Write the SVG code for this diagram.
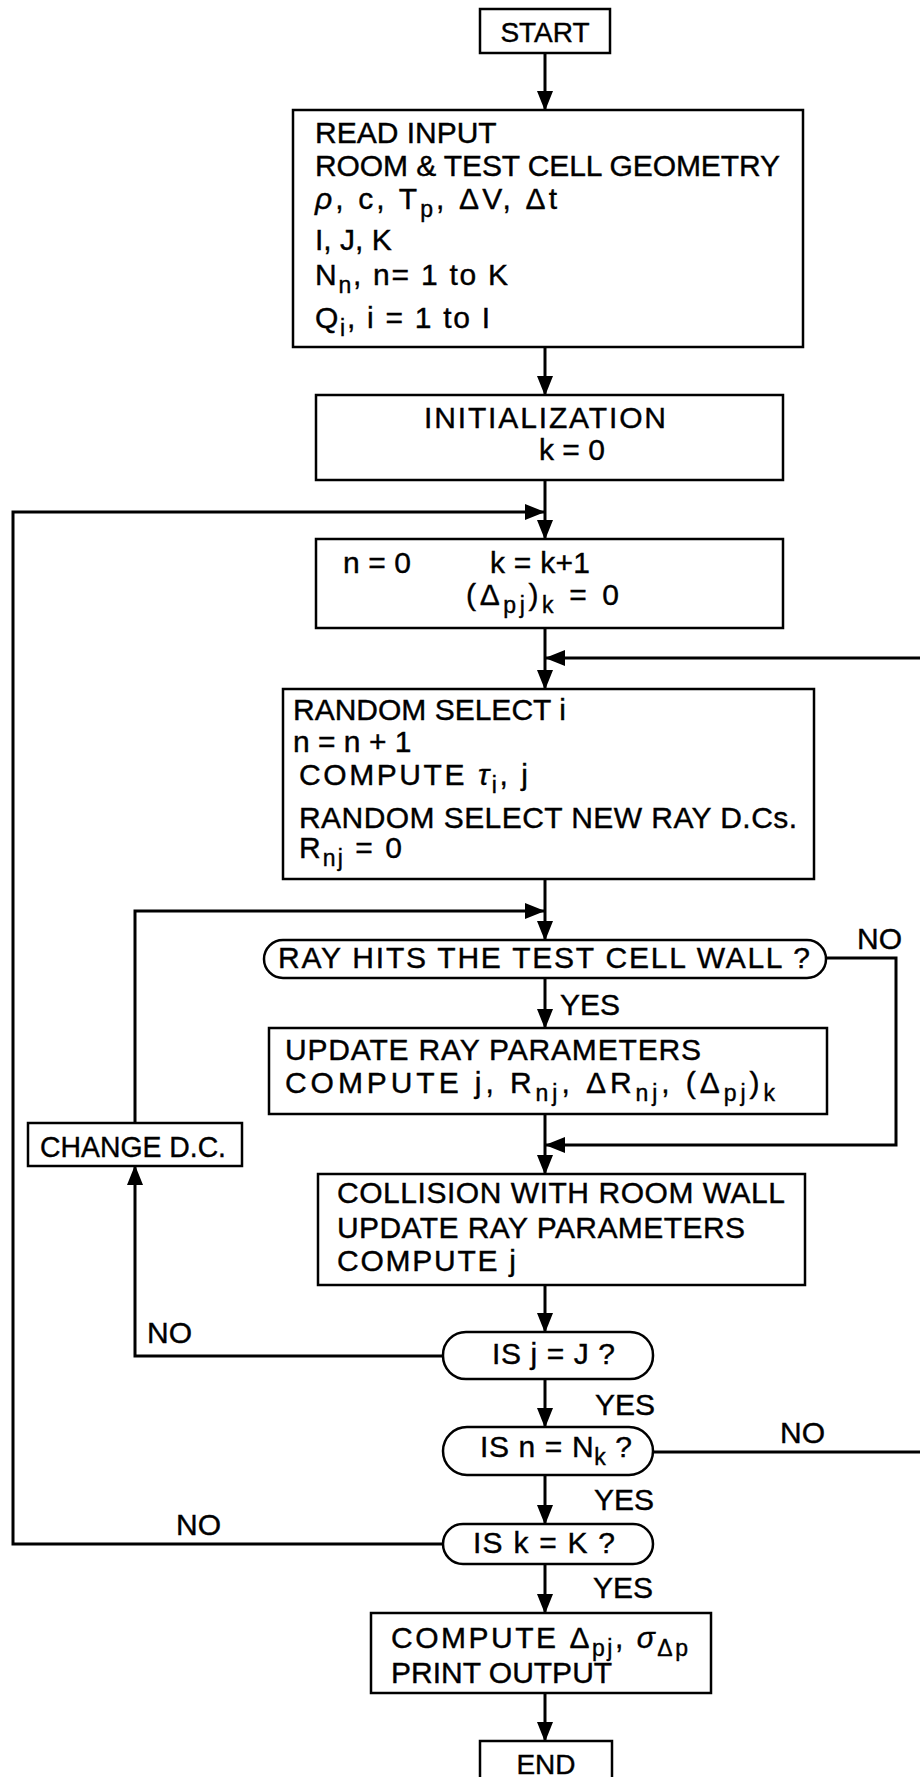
<svg xmlns="http://www.w3.org/2000/svg" width="920" height="1777" viewBox="0 0 920 1777">
<style>
  .box { fill: #fff; stroke: #000; stroke-width: 2.5; }
  .con { fill: none; stroke: #000; stroke-width: 3; }
  .t { font-family: "Liberation Sans", Arial, sans-serif; font-size: 30px; fill: #000; stroke: #000; stroke-width: 0.4; }
  .sub { font-size: 23px; }
</style>
<defs>
  <marker id="ah" markerUnits="userSpaceOnUse" viewBox="0 0 20 16" refX="19" refY="8" markerWidth="20" markerHeight="16" orient="auto">
    <path d="M0,0 L20,8 L0,16 z" fill="#000"/>
  </marker>
</defs>
<rect width="920" height="1777" fill="#fff"/>

<g id="connectors">
  <path class="con" d="M545,53 V110" marker-end="url(#ah)"/>
  <path class="con" d="M545,347 V395" marker-end="url(#ah)"/>
  <path class="con" d="M545,480 V539" marker-end="url(#ah)"/>
  <path class="con" d="M443,1544 H13 V512 H544" marker-end="url(#ah)"/>
  <path class="con" d="M545,628 V689" marker-end="url(#ah)"/>
  <path class="con" d="M653,1452 H922 V658 H546" marker-end="url(#ah)"/>
  <path class="con" d="M545,879 V940" marker-end="url(#ah)"/>
  <path class="con" d="M443,1356 H135 V1166" marker-end="url(#ah)"/>
  <path class="con" d="M135,1123 V911 H544" marker-end="url(#ah)"/>
  <path class="con" d="M545,978 V1028" marker-end="url(#ah)"/>
  <path class="con" d="M826,958 H896 V1145 H546" marker-end="url(#ah)"/>
  <path class="con" d="M545,1114 V1174" marker-end="url(#ah)"/>
  <path class="con" d="M545,1285 V1332" marker-end="url(#ah)"/>
  <path class="con" d="M545,1379 V1427" marker-end="url(#ah)"/>
  <path class="con" d="M545,1475 V1524" marker-end="url(#ah)"/>
  <path class="con" d="M545,1564 V1613" marker-end="url(#ah)"/>
  <path class="con" d="M545,1693 V1741" marker-end="url(#ah)"/>
  <text class="t" x="560" y="1015">YES</text>
  <text class="t" x="857" y="949">NO</text>
  <text class="t" x="147" y="1343">NO</text>
  <text class="t" x="595" y="1415">YES</text>
  <text class="t" x="780" y="1443">NO</text>
  <text class="t" x="594" y="1510">YES</text>
  <text class="t" x="176" y="1535">NO</text>
  <text class="t" x="593" y="1598">YES</text>
</g>

<g id="start">
  <rect class="box" x="480" y="9" width="130" height="44"/>
  <text class="t" x="545" y="42" text-anchor="middle" style="font-size:28px">START</text>
</g>

<g id="read-input">
  <rect class="box" x="293" y="110" width="510" height="237"/>
  <text class="t" x="315" y="143">READ INPUT</text>
  <text class="t" x="315" y="176" textLength="465" lengthAdjust="spacing">ROOM &amp; TEST CELL GEOMETRY</text>
  <text class="t" x="315" y="209" textLength="242" lengthAdjust="spacing"><tspan font-style="italic">ρ</tspan>, c, T<tspan class="sub" dy="8">p</tspan><tspan dy="-8">, ΔV, Δt</tspan></text>
  <text class="t" x="315" y="250">I, J, K</text>
  <text class="t" x="315" y="285" textLength="193" lengthAdjust="spacing">N<tspan class="sub" dy="8">n</tspan><tspan dy="-8">, n= 1 to K</tspan></text>
  <text class="t" x="315" y="328" textLength="175" lengthAdjust="spacing">Q<tspan class="sub" dy="8">i</tspan><tspan dy="-8">, i = 1 to I</tspan></text>
</g>

<g id="initialization">
  <rect class="box" x="316" y="395" width="467" height="85"/>
  <text class="t" x="424" y="428" textLength="242" lengthAdjust="spacing">INITIALIZATION</text>
  <text class="t" x="539" y="460">k = 0</text>
</g>

<g id="loop-init">
  <rect class="box" x="316" y="539" width="467" height="89"/>
  <text class="t" x="343" y="573" textLength="68" lengthAdjust="spacing">n=0</text>
  <text class="t" x="490" y="573" textLength="100" lengthAdjust="spacing">k = k+1</text>
  <text class="t" x="466" y="605" textLength="153" lengthAdjust="spacing">(Δ<tspan class="sub" dy="8">pj</tspan><tspan dy="-8">)</tspan><tspan class="sub" dy="8">k</tspan><tspan dy="-8"> = 0</tspan></text>
</g>

<g id="random-select">
  <rect class="box" x="283" y="689" width="531" height="190"/>
  <text class="t" x="293" y="720">RANDOM SELECT i</text>
  <text class="t" x="293" y="752">n = n + 1</text>
  <text class="t" x="299" y="785" textLength="229" lengthAdjust="spacing">COMPUTE <tspan font-style="italic">τ</tspan><tspan class="sub" dy="8">i</tspan><tspan dy="-8">, j</tspan></text>
  <text class="t" x="299" y="828" textLength="498" lengthAdjust="spacing">RANDOM SELECT NEW RAY D.Cs.</text>
  <text class="t" x="299" y="858" textLength="103" lengthAdjust="spacing">R<tspan class="sub" dy="8">nj</tspan><tspan dy="-8"> = 0</tspan></text>
</g>

<g id="ray-hits">
  <rect class="box" x="264" y="940" width="562" height="38" rx="19" ry="19"/>
  <text class="t" x="278" y="968" textLength="532" lengthAdjust="spacing">RAY HITS THE TEST CELL WALL ?</text>
</g>

<g id="update">
  <rect class="box" x="269" y="1028" width="558" height="86"/>
  <text class="t" x="285" y="1060" textLength="416" lengthAdjust="spacing">UPDATE RAY PARAMETERS</text>
  <text class="t" x="285" y="1093" textLength="490" lengthAdjust="spacing">COMPUTE  j, R<tspan class="sub" dy="8">nj</tspan><tspan dy="-8">, ΔR</tspan><tspan class="sub" dy="8">nj</tspan><tspan dy="-8">, (Δ</tspan><tspan class="sub" dy="8">pj</tspan><tspan dy="-8">)</tspan><tspan class="sub" dy="8">k</tspan></text>
</g>

<g id="change-dc">
  <rect class="box" x="28" y="1123" width="214" height="43"/>
  <text class="t" x="40" y="1157" textLength="186" lengthAdjust="spacingAndGlyphs">CHANGE D.C.</text>
</g>

<g id="collision">
  <rect class="box" x="318" y="1174" width="487" height="111"/>
  <text class="t" x="337" y="1203" textLength="448" lengthAdjust="spacing">COLLISION WITH ROOM WALL</text>
  <text class="t" x="337" y="1238" textLength="408" lengthAdjust="spacing">UPDATE RAY PARAMETERS</text>
  <text class="t" x="337" y="1271" textLength="179" lengthAdjust="spacing">COMPUTE j</text>
</g>

<g id="is-j-J">
  <rect class="box" x="443" y="1332" width="210" height="47" rx="23" ry="23"/>
  <text class="t" x="492" y="1364" textLength="123" lengthAdjust="spacing">IS j = J ?</text>
</g>

<g id="is-n-Nk">
  <rect class="box" x="443" y="1427" width="210" height="48" rx="24" ry="24"/>
  <text class="t" x="480" y="1457" textLength="152" lengthAdjust="spacing">IS n = N<tspan class="sub" dy="8">k</tspan><tspan dy="-8"> ?</tspan></text>
</g>

<g id="is-k-K">
  <rect class="box" x="443" y="1524" width="210" height="40" rx="20" ry="20"/>
  <text class="t" x="473" y="1553" textLength="142" lengthAdjust="spacing">IS k = K ?</text>
</g>

<g id="compute-output">
  <rect class="box" x="371" y="1613" width="340" height="80"/>
  <text class="t" x="391" y="1648" textLength="297" lengthAdjust="spacing">COMPUTE Δ<tspan class="sub" dy="8">pj</tspan><tspan dy="-8">, </tspan><tspan font-style="italic">σ</tspan><tspan class="sub" dy="8">Δp</tspan></text>
  <text class="t" x="391" y="1683">PRINT OUTPUT</text>
</g>

<g id="end">
  <rect class="box" x="480" y="1741" width="132" height="50"/>
  <text class="t" x="546" y="1774" text-anchor="middle" style="font-size:28px">END</text>
</g>
</svg>
